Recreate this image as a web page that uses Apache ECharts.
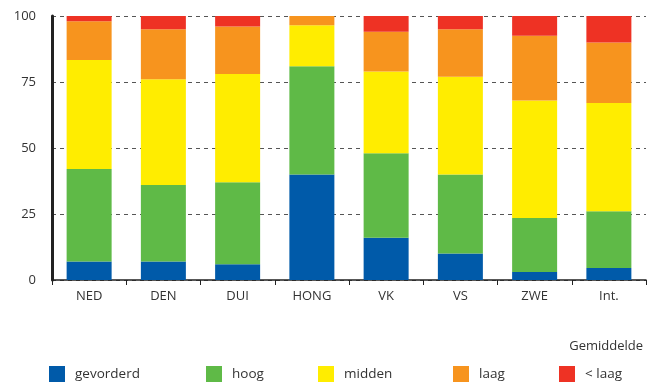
<!DOCTYPE html>
<html>
<head>
<meta charset="utf-8">
<script src="https://cdn.jsdelivr.net/npm/echarts@6/dist/echarts.min.js"></script>
<style>
html,body{margin:0;padding:0;background:#fff;}
#c{width:660px;height:384px;}
</style>
</head>
<body>
<div id="c"></div>
<script>
const categories = ['NED','DEN','DUI','HONG','VK','VS','ZWE','Int.'];
const seriesNames = ['gevorderd','hoog','midden','laag','< laag'];
const gevorderd = [7, 7, 6, 40, 16, 10, 3, 4.5];
const hoog      = [35, 29, 31, 41, 32, 30, 20.5, 21.5];
const midden    = [41.3, 40, 41, 15.5, 31, 37, 44.5, 41];
const laag      = [14.7, 19, 18, 3.5, 15, 18, 24.5, 23];
const onderLaag = [2, 5, 4, 0, 6, 5, 7.5, 10];
const yTicks = [0, 25, 50, 75, 100];
const colors = ['#005aa9','#5fba47','#ffed00','#f7941e','#ee3224'];
const values = [gevorderd, hoog, midden, laag, onderLaag];

const font = 'Open Sans';
const chart = echarts.init(document.getElementById('c'));
const legendLefts = [49, 206, 318, 453, 559];
chart.setOption({
  animation: false,
  textStyle: {fontFamily: font},
  grid: {left: 52, right: 14, top: 16, bottom: 104},
  title: {text: 'Gemiddelde', right: 12, top: 335,
    textStyle: {fontFamily: font, fontSize: 13, fontWeight: 'normal', color: '#333'}},
  legend: seriesNames.map((n, i) => ({
    data: [n], left: legendLefts[i], top: 366, padding: 0, itemWidth: 16, itemHeight: 16, itemGap: 0,
    icon: 'rect', textStyle: {fontFamily: font, fontSize: 13.5, color: '#333', padding: [0,0,0,5]}
  })),
  xAxis: {
    type: 'category', data: categories,
    axisLine: {lineStyle: {color: '#222', width: 1.5}},
    axisTick: {show: true, length: 5, lineStyle: {color: '#222'}},
    axisLabel: {fontFamily: font, fontSize: 13, color: '#333', margin: 10}
  },
  yAxis: {
    type: 'value', min: 0, max: 100, interval: 25,
    axisLine: {show: true, lineStyle: {color: '#222', width: 3}},
    axisTick: {show: false},
    axisLabel: {fontFamily: font, fontSize: 13, color: '#333', margin: 16, padding: [7,0,0,0],
      formatter: v => yTicks.includes(v) ? String(v) : ''},
    splitLine: {show: true, lineStyle: {color: '#555', type: [4, 4], width: 1}}
  },
  series: seriesNames.map((n, i) => ({
    name: n, type: 'bar', stack: 'total', data: values[i], barWidth: 45,
    itemStyle: {color: colors[i]}
  }))
});
</script>
</body>
</html>
